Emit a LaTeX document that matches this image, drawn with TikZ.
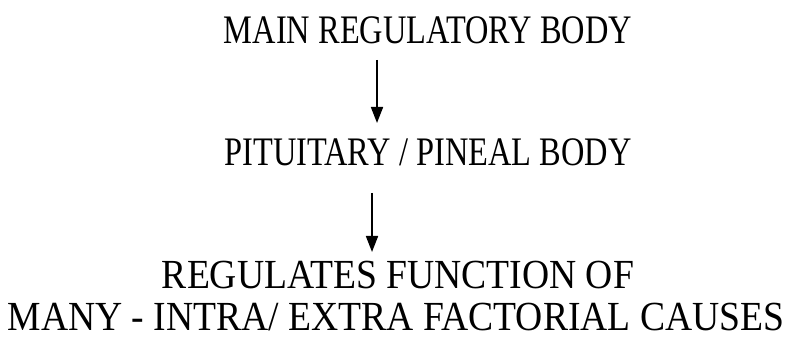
\documentclass[tikz,border=0pt]{standalone}
\usepackage{fontspec}
\setmainfont{Liberation Serif}
\usetikzlibrary{arrows.meta}

\tikzset{
  steptext/.style={inner sep=0pt, anchor=base},
  flow/.style={line width=1.3pt, -{Triangle[length=12pt,width=9pt]}}
}

\begin{document}
\begin{tikzpicture}[x=0.75pt, y=-0.75pt]
    \useasboundingbox (0,0) rectangle (788,341);

    \node[steptext, font=\fontsize{24.3}{29}\selectfont] (mainbody) at (428,44)
        {\scalebox{1}[1.25]{MAIN REGULATORY BODY}};
    \node[steptext, font=\fontsize{24.3}{29}\selectfont] (pineal) at (428,166)
        {\scalebox{1}[1.25]{PITUITARY / PINEAL BODY}};
    \node[steptext, font=\fontsize{28.2}{33}\selectfont] (regulates) at (398,289)
        {\scalebox{1}[1.1]{REGULATES FUNCTION OF}};
    \node[steptext, font=\fontsize{28.2}{33}\selectfont] (causes) at (396,331)
        {\scalebox{1}[1.1]{MANY - INTRA/ EXTRA FACTORIAL CAUSES}};

    \draw[flow] ([shift={(-51,16)}]mainbody.base) -- ([shift={(-51,-43)}]pineal.base);
    \draw[flow] ([shift={(-56,27)}]pineal.base) -- ([shift={(-26,-37)}]regulates.base);
\end{tikzpicture}
\end{document}
